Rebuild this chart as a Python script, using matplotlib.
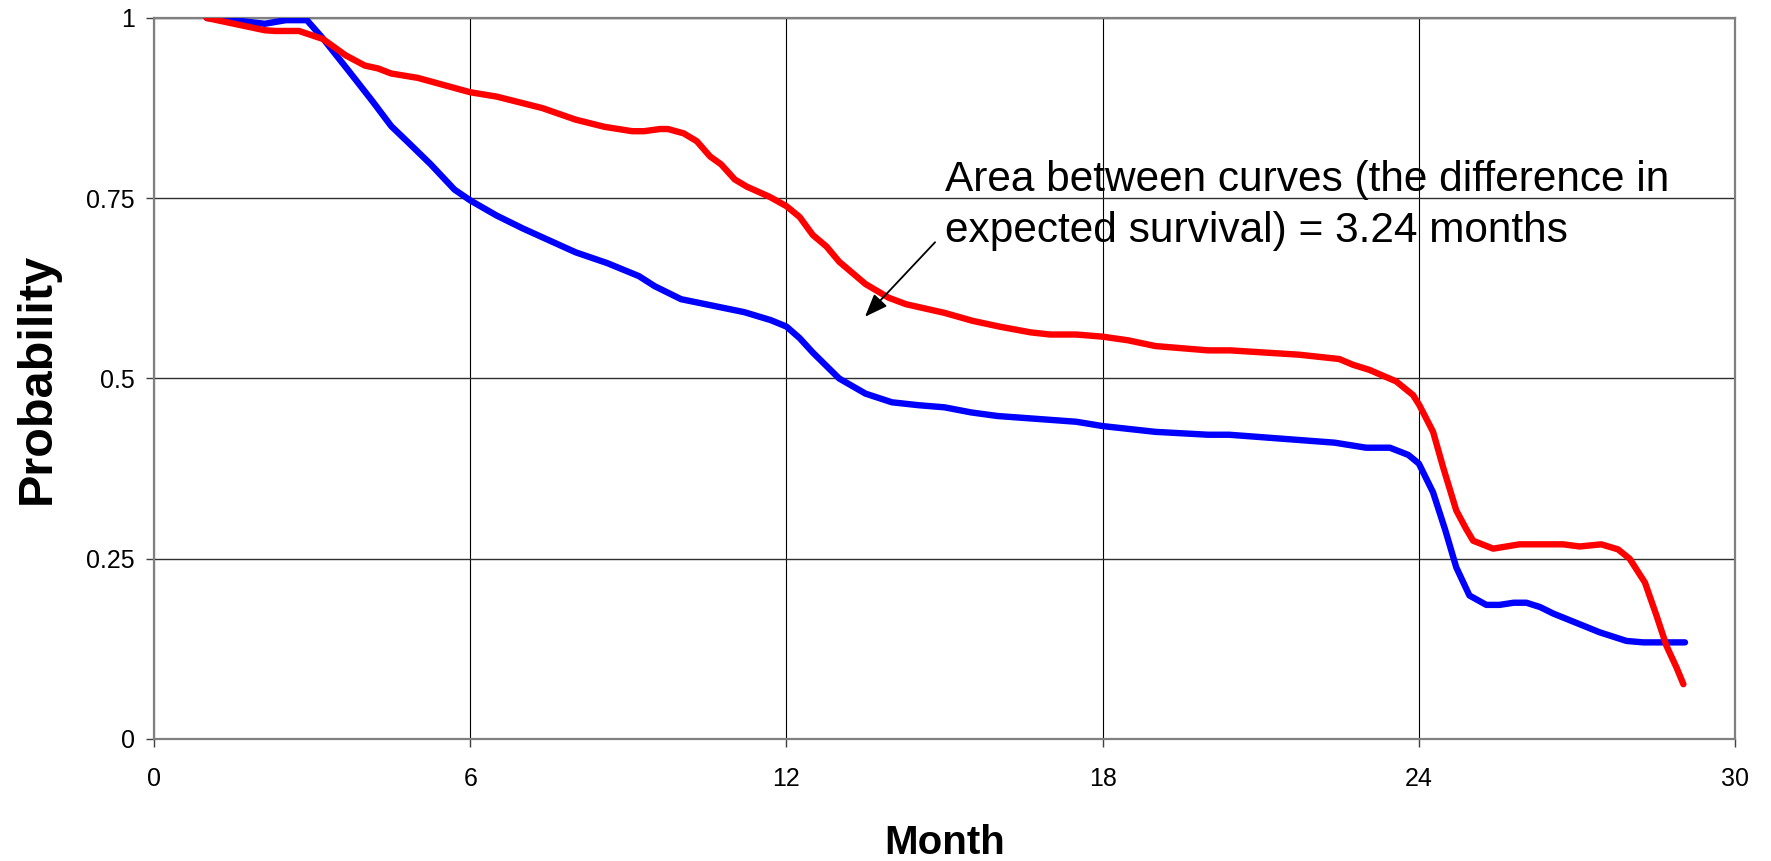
import matplotlib
matplotlib.use("Agg")
import matplotlib.pyplot as plt

plt.rcParams['font.family'] = ['Liberation Sans', 'DejaVu Sans']

# ---- data ----
blue_months = [1.0, 1.5, 2.1, 2.5, 2.9, 3.2, 3.7, 4.15, 4.5, 4.8, 5.25, 5.7, 6.0, 6.5, 7.0,
               8.0, 8.6, 9.2, 9.5, 10.0, 10.4, 11.2, 11.7, 12.0, 12.25, 12.5, 13.0, 13.5,
               14.0, 14.5, 15.0, 15.5, 16.0, 17.5, 18.0, 19.0, 20.0, 20.4, 22.4, 23.0,
               23.45, 23.8, 24.0, 24.27, 24.5, 24.71, 24.96, 25.28, 25.53, 25.8, 26.04,
               26.3, 26.55, 27.43, 27.94, 28.26, 29.05]
blue_prob = [1.0, 0.997, 0.992, 0.997, 0.997, 0.972, 0.926, 0.884, 0.85, 0.829, 0.797, 0.762,
             0.747, 0.726, 0.708, 0.675, 0.66, 0.642, 0.628, 0.61, 0.604, 0.592, 0.581, 0.572,
             0.556, 0.536, 0.50, 0.479, 0.467, 0.463, 0.46, 0.453, 0.448, 0.44, 0.434, 0.426,
             0.422, 0.422, 0.411, 0.404, 0.404, 0.394, 0.382, 0.342, 0.29, 0.238, 0.199,
             0.186, 0.186, 0.189, 0.189, 0.183, 0.174, 0.148, 0.136, 0.134, 0.134]

red_months = [1.0, 2.1, 2.3, 2.75, 3.2, 3.64, 4.0, 4.25, 4.5, 5.0, 6.0, 6.5, 7.37, 8.0, 8.55,
              9.07, 9.3, 9.6, 9.75, 10.05, 10.3, 10.55, 10.76, 11.02, 11.25, 11.68, 12.0,
              12.25, 12.5, 12.76, 13.0, 13.5, 13.94, 14.27, 15.0, 15.53, 16.04, 16.63, 17.0,
              17.5, 18.0, 18.48, 19.0, 20.0, 20.42, 21.73, 22.49, 22.75, 23.06, 23.57, 23.89,
              24.01, 24.27, 24.46, 24.71, 24.9, 25.03, 25.41, 25.91, 26.74, 27.05, 27.46,
              27.78, 28.0, 28.29, 28.51, 28.7, 28.89, 29.02]
red_prob = [1.0, 0.983, 0.982, 0.982, 0.971, 0.948, 0.934, 0.93, 0.923, 0.917, 0.897, 0.891,
            0.875, 0.859, 0.849, 0.843, 0.843, 0.846, 0.846, 0.84, 0.829, 0.808, 0.797, 0.776,
            0.766, 0.752, 0.739, 0.724, 0.699, 0.683, 0.662, 0.631, 0.612, 0.603, 0.591, 0.58,
            0.572, 0.564, 0.561, 0.561, 0.558, 0.553, 0.545, 0.539, 0.539, 0.533, 0.527,
            0.519, 0.512, 0.496, 0.477, 0.463, 0.426, 0.377, 0.317, 0.291, 0.275, 0.264,
            0.27, 0.27, 0.267, 0.27, 0.263, 0.25, 0.217, 0.171, 0.129, 0.099, 0.076]

x_ticks = [0, 6, 12, 18, 24, 30]
y_ticks = [0, 0.25, 0.5, 0.75, 1]
y_tick_labels = ['0', '0.25', '0.5', '0.75', '1']
annotation_text = "Area between curves (the difference in\nexpected survival) = 3.24 months"

# ---- figure ----
fig = plt.figure(figsize=(17.71, 8.61), dpi=100)
ax = fig.add_axes([0.0870, 0.1417, 0.8927, 0.8374])

ax.plot(blue_months, blue_prob, color='#0000FF', lw=4.6, solid_capstyle='round',
        solid_joinstyle='round', zorder=3)
ax.plot(red_months, red_prob, color='#FF0000', lw=4.6, solid_capstyle='round',
        solid_joinstyle='round', zorder=4)

ax.set_xlim(0, 30)
ax.set_ylim(0, 1)
ax.set_xticks(x_ticks)
ax.set_xticklabels([str(t) for t in x_ticks])
ax.set_yticks(y_ticks)
ax.set_yticklabels(y_tick_labels)

ax.grid(True, axis='x', color='black', lw=0.8)
ax.grid(True, axis='y', color='#303030', lw=1.0)
ax.set_axisbelow(True)

for s in ax.spines.values():
    s.set_color('#808080')
    s.set_linewidth(1.6)

ax.tick_params(axis='both', direction='out', length=5.8, width=1, color='#404040',
               labelsize=18)
ax.tick_params(axis='y', pad=8)
ax.tick_params(axis='x', pad=14.5)

ax.set_xlabel('Month', fontsize=29, fontweight='bold')
ax.xaxis.set_label_coords(0.5, -0.118)
ax.set_ylabel('Probability', fontsize=35, fontweight='bold')
ax.yaxis.set_label_coords(-0.0594, 0.5)

ax.text(15.0, 0.6897, annotation_text, fontsize=30.5, va='baseline', ha='left',
        linespacing=1.34, zorder=5)
ax.annotate('', xy=(13.49, 0.5856), xytext=(14.82, 0.689),
            arrowprops=dict(arrowstyle='-|>,head_length=0.7,head_width=0.27',
                            color='black', lw=1.3, mutation_scale=20,
                            shrinkA=0, shrinkB=0), zorder=5)

fig.savefig('out.png', dpi=100)
